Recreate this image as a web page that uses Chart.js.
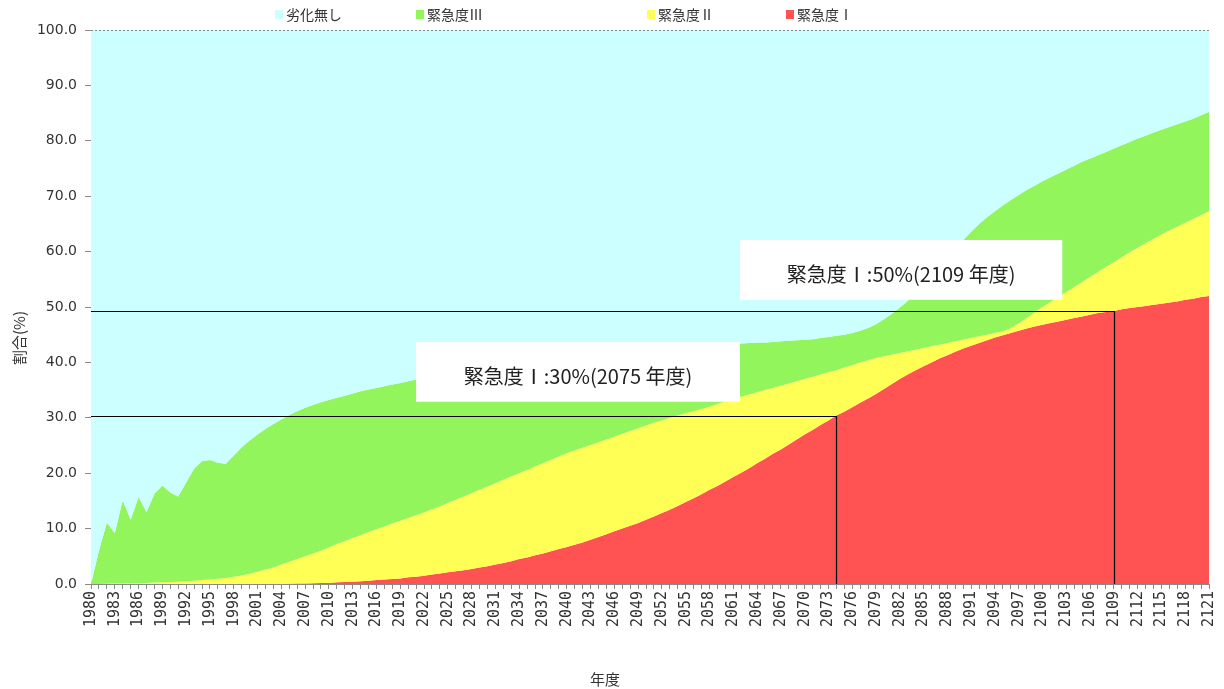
<!DOCTYPE html>
<html lang="ja">
<head>
<meta charset="utf-8">
<title>緊急度別割合の推移</title>
<script src="https://cdn.jsdelivr.net/npm/chart.js@4.4.1/dist/chart.umd.min.js"></script>
<style>
    html, body { margin: 0; padding: 0; background: #ffffff; }
    canvas { display: block; }
</style>
</head>
<body>
<canvas id="areaChart" width="1224" height="689"></canvas>
<script>
// 年度 (category axis)
const years = [
    1980, 1981, 1982, 1983, 1984, 1985, 1986, 1987, 1988, 1989,
    1990, 1991, 1992, 1993, 1994, 1995, 1996, 1997, 1998, 1999,
    2000, 2001, 2002, 2003, 2004, 2005, 2006, 2007, 2008, 2009,
    2010, 2011, 2012, 2013, 2014, 2015, 2016, 2017, 2018, 2019,
    2020, 2021, 2022, 2023, 2024, 2025, 2026, 2027, 2028, 2029,
    2030, 2031, 2032, 2033, 2034, 2035, 2036, 2037, 2038, 2039,
    2040, 2041, 2042, 2043, 2044, 2045, 2046, 2047, 2048, 2049,
    2050, 2051, 2052, 2053, 2054, 2055, 2056, 2057, 2058, 2059,
    2060, 2061, 2062, 2063, 2064, 2065, 2066, 2067, 2068, 2069,
    2070, 2071, 2072, 2073, 2074, 2075, 2076, 2077, 2078, 2079,
    2080, 2081, 2082, 2083, 2084, 2085, 2086, 2087, 2088, 2089,
    2090, 2091, 2092, 2093, 2094, 2095, 2096, 2097, 2098, 2099,
    2100, 2101, 2102, 2103, 2104, 2105, 2106, 2107, 2108, 2109,
    2110, 2111, 2112, 2113, 2114, 2115, 2116, 2117, 2118, 2119,
    2120, 2121
];

// 累積割合(%) : upper edge of each band
// 緊急度Ⅰ
const levelI = [
    0, 0, 0, 0, 0, 0, 0, 0, 0, 0,
    0, 0, 0, 0, 0, 0, 0, 0, 0, 0,
    0, 0, 0, 0, 0, 0.05, 0.1, 0.1, 0.15, 0.2,
    0.2, 0.3, 0.35, 0.4, 0.5, 0.6, 0.7, 0.8, 0.9, 1.0,
    1.2, 1.3, 1.5, 1.7, 1.9, 2.1, 2.3, 2.5, 2.7, 3.0,
    3.2, 3.5, 3.8, 4.1, 4.5, 4.8, 5.2, 5.5, 5.9, 6.3,
    6.7, 7.1, 7.5, 8.0, 8.5, 9.0, 9.5, 10.0, 10.5, 11.0,
    11.6, 12.2, 12.8, 13.4, 14.1, 14.8, 15.5, 16.2, 17.0, 17.7,
    18.5, 19.3, 20.1, 20.9, 21.8, 22.6, 23.5, 24.3, 25.2, 26.1,
    27.0, 27.8, 28.7, 29.5, 30.4, 31.1, 31.9, 32.7, 33.5, 34.3,
    35.2, 36.1, 37.0, 37.8, 38.6, 39.3, 40.0, 40.7, 41.3, 41.9,
    42.5, 43.0, 43.5, 44.0, 44.5, 44.9, 45.3, 45.7, 46.1, 46.5,
    46.8, 47.1, 47.4, 47.7, 48.0, 48.3, 48.6, 48.9, 49.1, 49.3,
    49.6, 49.8, 50.0, 50.2, 50.4, 50.6, 50.8, 51.0, 51.3, 51.5,
    51.8, 52.0
];

// 緊急度Ⅰ + 緊急度Ⅱ
const levelII = [
    0, 0, 0.05, 0.1, 0.1, 0.15, 0.2, 0.2, 0.25, 0.3,
    0.35, 0.4, 0.5, 0.6, 0.7, 0.8, 0.95, 1.1, 1.3, 1.55,
    1.85, 2.2, 2.6, 3.0, 3.5, 4.0, 4.5, 5.0, 5.5, 6.0,
    6.6, 7.2, 7.7, 8.3, 8.8, 9.4, 9.9, 10.4, 10.9, 11.4,
    11.9, 12.4, 12.9, 13.5, 14.0, 14.6, 15.2, 15.8, 16.4, 17.0,
    17.6, 18.2, 18.8, 19.4, 20.0, 20.6, 21.2, 21.8, 22.4, 23.0,
    23.6, 24.1, 24.6, 25.1, 25.6, 26.1, 26.6, 27.1, 27.6, 28.1,
    28.6, 29.1, 29.5, 30.0, 30.4, 30.8, 31.2, 31.6, 32.0, 32.5,
    33.0, 33.4, 33.8, 34.2, 34.6, 35.0, 35.4, 35.8, 36.2, 36.6,
    37.0, 37.4, 37.8, 38.2, 38.6, 39.1, 39.5, 40.0, 40.4, 40.8,
    41.1, 41.4, 41.7, 42.0, 42.3, 42.6, 42.9, 43.2, 43.5, 43.8,
    44.1, 44.4, 44.7, 45.0, 45.3, 45.6, 46.2, 47.0, 48.0, 49.0,
    50.0, 50.9, 51.8, 52.7, 53.6, 54.5, 55.4, 56.3, 57.2, 58.1,
    59.0, 59.9, 60.7, 61.5, 62.3, 63.1, 63.8, 64.5, 65.2, 65.9,
    66.6, 67.3
];

// 緊急度Ⅰ + 緊急度Ⅱ + 緊急度Ⅲ
const levelIII = [
    0, 6.0, 11.1, 9.2, 15.1, 11.6, 15.7, 13.0, 16.3, 17.8,
    16.5, 15.8, 18.3, 20.8, 22.2, 22.4, 21.9, 21.7, 23.2, 24.7,
    25.9, 27.0, 28.0, 28.9, 29.7, 30.5, 31.2, 31.8, 32.3, 32.8,
    33.2, 33.6, 34.0, 34.4, 34.8, 35.1, 35.4, 35.7, 36.0, 36.3,
    36.6, 36.9, 37.2, 37.5, 37.8, 38.0, 38.3, 38.5, 38.8, 39.0,
    39.2, 39.4, 39.6, 39.8, 40.0, 40.2, 40.4, 40.6, 40.8, 41.0,
    41.1, 41.3, 41.4, 41.6, 41.7, 41.9, 42.0, 42.1, 42.3, 42.4,
    42.5, 42.6, 42.7, 42.8, 42.9, 43.0, 43.0, 43.1, 43.2, 43.2,
    43.3, 43.4, 43.4, 43.5, 43.6, 43.6, 43.7, 43.8, 43.9, 44.0,
    44.1, 44.2, 44.4, 44.6, 44.8, 45.0, 45.3, 45.7, 46.2, 46.9,
    47.8, 48.8, 49.9, 51.1, 52.4, 53.8, 55.4, 57.1, 58.8, 60.5,
    62.1, 63.6, 65.0, 66.2, 67.3, 68.3, 69.3, 70.2, 71.1, 71.9,
    72.7, 73.4, 74.1, 74.8, 75.5, 76.2, 76.8, 77.4, 78.0, 78.6,
    79.2, 79.8, 80.4, 80.9, 81.5, 82.0, 82.5, 83.0, 83.5, 84.0,
    84.6, 85.2
];

const seriesNames = ['劣化無し', '緊急度Ⅲ', '緊急度Ⅱ', '緊急度Ⅰ'];
const seriesColors = ['#CCFFFF', '#92F55C', '#FFFF55', '#FF5252'];

// 目標到達点 (year index, level, label)
const markers = [
    { index: 94, level: 30.4, text: '緊急度Ⅰ:30%(2075 年度)', box: [41.0, 81.85, 43.7, 32.9] },
    { index: 129, level: 49.3, text: '緊急度Ⅰ:50%(2109 年度)', box: [81.85, 122.5, 62.1, 51.3] }
];

const legendX = [275, 416, 647, 786];

const overlayPlugin = {
    id: 'overlay',
    afterDatasetsDraw(chart) {
        const { ctx, chartArea, scales } = chart;
        const x = scales.x;
        const y = scales.y;
        ctx.save();

        // dashed top border
        ctx.strokeStyle = '#8a8a8a';
        ctx.lineWidth = 1;
        ctx.setLineDash([2, 2]);
        ctx.beginPath();
        ctx.moveTo(chartArea.left, chartArea.top + 0.5);
        ctx.lineTo(chartArea.right, chartArea.top + 0.5);
        ctx.stroke();
        ctx.setLineDash([]);

        markers.forEach(m => {
            const px = Math.round(x.getPixelForValue(m.index)) + 0.5;
            const py = Math.round(y.getPixelForValue(m.level)) + 0.5;

            ctx.strokeStyle = '#000000';
            ctx.lineWidth = 1.2;
            ctx.beginPath();
            ctx.moveTo(chartArea.left, py);
            ctx.lineTo(px, py);
            ctx.lineTo(px, chartArea.bottom);
            ctx.stroke();

            const bx1 = x.getPixelForValue(m.box[0]);
            const bx2 = x.getPixelForValue(m.box[1]);
            const by1 = y.getPixelForValue(m.box[2]);
            const by2 = y.getPixelForValue(m.box[3]);
            ctx.fillStyle = '#ffffff';
            ctx.fillRect(bx1, by1, bx2 - bx1, by2 - by1);

            ctx.fillStyle = '#222222';
            ctx.font = '20px "Noto Sans CJK JP"';
            ctx.textAlign = 'center';
            ctx.textBaseline = 'middle';
            ctx.fillText(m.text, (bx1 + bx2) / 2, (by1 + by2) / 2 + 5);
        });

        ctx.restore();
    },
    afterDraw(chart) {
        const { ctx } = chart;
        ctx.save();

        // legend
        ctx.font = '14px "Noto Sans CJK JP"';
        ctx.textAlign = 'left';
        ctx.textBaseline = 'middle';
        seriesNames.forEach((name, i) => {
            ctx.fillStyle = seriesColors[i];
            ctx.fillRect(legendX[i], 10, 8, 9);
            ctx.fillStyle = '#333333';
            ctx.fillText(name, legendX[i] + 11, 15);
        });

        // axis titles
        ctx.font = '15px "Noto Sans CJK JP"';
        ctx.textAlign = 'center';
        ctx.fillText('年度', 605, 679);

        ctx.translate(19, 338);
        ctx.rotate(-Math.PI / 2);
        ctx.fillText('割合(%)', 0, 0);

        ctx.restore();
    }
};

function makeDataset(label, data, color, fill) {
    return {
        label: label,
        data: data,
        backgroundColor: color,
        borderColor: color,
        borderWidth: 0,
        pointRadius: 0,
        tension: 0,
        fill: fill
    };
}

const ctx = document.getElementById('areaChart');

new Chart(ctx, {
    type: 'line',
    data: {
        labels: years,
        datasets: [
            makeDataset(seriesNames[0], levelIII, seriesColors[0], 'end'),
            makeDataset(seriesNames[1], levelIII, seriesColors[1], '+1'),
            makeDataset(seriesNames[2], levelII, seriesColors[2], '+1'),
            makeDataset(seriesNames[3], levelI, seriesColors[3], 'origin')
        ]
    },
    options: {
        responsive: false,
        animation: false,
        events: [],
        layout: {
            padding: { top: 30, right: 15, left: 0, bottom: 0 }
        },
        plugins: {
            legend: { display: false },
            tooltip: { enabled: false }
        },
        scales: {
            x: {
                offset: false,
                afterFit: scale => {
                    scale.height = 105;
                    scale.paddingLeft = 0;
                    scale.paddingRight = 0;
                },
                border: { display: true, color: '#8a8a8a' },
                grid: {
                    drawOnChartArea: false,
                    drawTicks: true,
                    tickLength: 5,
                    color: '#8a8a8a'
                },
                ticks: {
                    autoSkip: false,
                    minRotation: 90,
                    maxRotation: 90,
                    padding: 2,
                    color: '#333333',
                    font: { family: '"DejaVu Sans Mono"', size: 15 },
                    callback: (value, index) => index % 3 === 0 ? String(years[index]) : ''
                }
            },
            y: {
                min: 0,
                max: 100,
                afterFit: scale => { scale.width = 91; },
                border: { display: true, color: '#8a8a8a' },
                grid: {
                    drawOnChartArea: false,
                    drawTicks: true,
                    tickLength: 6,
                    color: '#8a8a8a'
                },
                ticks: {
                    stepSize: 10,
                    padding: 8,
                    color: '#333333',
                    font: { family: '"DejaVu Sans"', size: 14 },
                    callback: value => value.toFixed(1)
                }
            }
        }
    },
    plugins: [overlayPlugin]
});
</script>
</body>
</html>
